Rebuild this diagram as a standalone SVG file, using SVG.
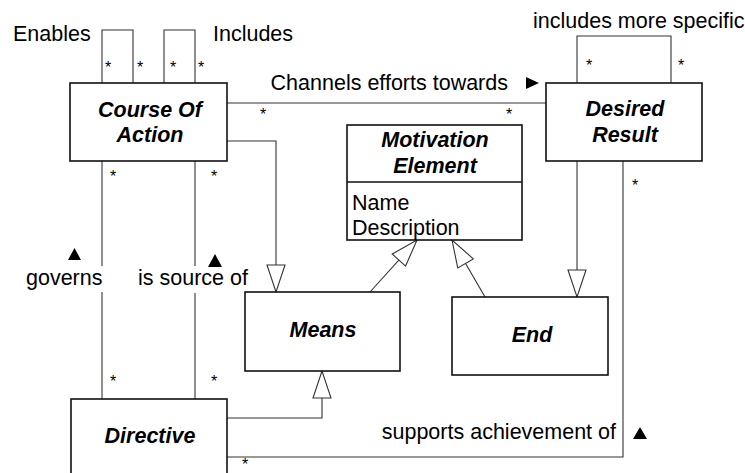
<svg xmlns="http://www.w3.org/2000/svg" width="745" height="473" viewBox="0 0 745 473">
  <style>
    .box { fill: #fff; stroke: #111; stroke-width: 1.6; }
    .line { fill: none; stroke: #333; stroke-width: 1.1; }
    .name { font-family: "Liberation Sans", Arial, sans-serif; font-size: 21.5px; font-weight: bold; font-style: italic; text-anchor: middle; fill: #000; }
    .attr { font-family: "Liberation Sans", Arial, sans-serif; font-size: 21.5px; fill: #000; }
    .label { font-family: "Liberation Sans", Arial, sans-serif; font-size: 21.5px; fill: #000; }
    .mult { font-family: "Liberation Sans", Arial, sans-serif; font-size: 16px; text-anchor: middle; fill: #000; }
    .dir { fill: #000; }
  </style>
  <defs>
    <marker id="gen" markerUnits="userSpaceOnUse" markerWidth="30" markerHeight="20" refX="27" refY="9" orient="auto" overflow="visible">
      <path d="M0,0 L27,9 L0,18 Z" fill="#fff" stroke="#333" stroke-width="1.1"/>
    </marker>
  </defs>

  <rect width="745" height="473" fill="#fff"/>

  <!-- connectors -->
  <g id="connectors">
    <!-- self associations -->
    <path class="line" d="M102,83 V30 H133 V83"/>
    <path class="line" d="M164,83 V30 H195 V83"/>
    <path class="line" d="M577,83 V36 H671 V83"/>
    <!-- Course Of Action to Desired Result -->
    <path class="line" d="M227,103 H546"/>
    <!-- Course Of Action to Directive -->
    <path class="line" d="M102,161 V399"/>
    <path class="line" d="M195,161 V399"/>
    <!-- Directive to Desired Result -->
    <path class="line" d="M227,457 H623 V161"/>
    <!-- generalizations -->
    <path class="line" d="M227,141 H276 V292" marker-end="url(#gen)"/>
    <path class="line" d="M227,418 H322 V371" marker-end="url(#gen)"/>
    <path class="line" d="M577,161 V297" marker-end="url(#gen)"/>
    <path class="line" d="M370,292 L417,240" marker-end="url(#gen)"/>
    <path class="line" d="M485,297 L452,240" marker-end="url(#gen)"/>

    <!-- association labels -->
    <text class="label" x="13" y="41">Enables</text>
    <text class="label" x="213" y="41">Includes</text>
    <text class="label" x="533" y="28">includes more specific</text>
    <text class="label" x="508" y="90" text-anchor="end">Channels efforts towards</text>
    <polygon class="dir" points="526,77 539,83 526,89"/>

    <rect x="24" y="266" width="81" height="26" fill="#fff"/>
    <text class="label" x="26" y="285">governs</text>
    <polygon class="dir" points="68,260 74.5,248 81,260"/>

    <rect x="136" y="266" width="114" height="27" fill="#fff"/>
    <text class="label" x="138" y="285">is source of</text>
    <polygon class="dir" points="208,267 215,254 222,267"/>

    <text class="label" x="616" y="439" text-anchor="end">supports achievement of</text>
    <polygon class="dir" points="633,439 640,427 647,439"/>

    <!-- multiplicities -->
    <text class="mult" x="108" y="73">*</text>
    <text class="mult" x="140" y="73">*</text>
    <text class="mult" x="173" y="73">*</text>
    <text class="mult" x="201" y="73">*</text>
    <text class="mult" x="589" y="71">*</text>
    <text class="mult" x="681" y="71">*</text>
    <text class="mult" x="263" y="120">*</text>
    <text class="mult" x="509" y="120">*</text>
    <text class="mult" x="635" y="191">*</text>
    <text class="mult" x="113" y="182">*</text>
    <text class="mult" x="214" y="182">*</text>
    <text class="mult" x="113" y="387">*</text>
    <text class="mult" x="214" y="387">*</text>
    <text class="mult" x="245" y="470">*</text>
  </g>

  <!-- classes -->
  <g id="course-of-action">
    <rect class="box" x="70" y="83" width="157" height="78"/>
    <text class="name" x="150" y="117">Course Of</text>
    <text class="name" x="150" y="142">Action</text>
  </g>

  <g id="desired-result">
    <rect class="box" x="546" y="83" width="156" height="78"/>
    <text class="name" x="625" y="116">Desired</text>
    <text class="name" x="625" y="142">Result</text>
  </g>

  <g id="motivation-element">
    <rect class="box" x="347" y="125" width="175" height="115"/>
    <line class="box" x1="347" y1="182" x2="522" y2="182"/>
    <text class="name" x="435" y="147">Motivation</text>
    <text class="name" x="435" y="173">Element</text>
    <text class="attr" x="352" y="210">Name</text>
    <text class="attr" x="352" y="235">Description</text>
  </g>

  <g id="means">
    <rect class="box" x="245" y="292" width="155" height="79"/>
    <text class="name" x="323" y="337">Means</text>
  </g>

  <g id="end">
    <rect class="box" x="452" y="297" width="156" height="78"/>
    <text class="name" x="532" y="342">End</text>
  </g>

  <g id="directive">
    <rect class="box" x="71" y="399" width="156" height="82"/>
    <text class="name" x="150" y="443">Directive</text>
  </g>
</svg>
